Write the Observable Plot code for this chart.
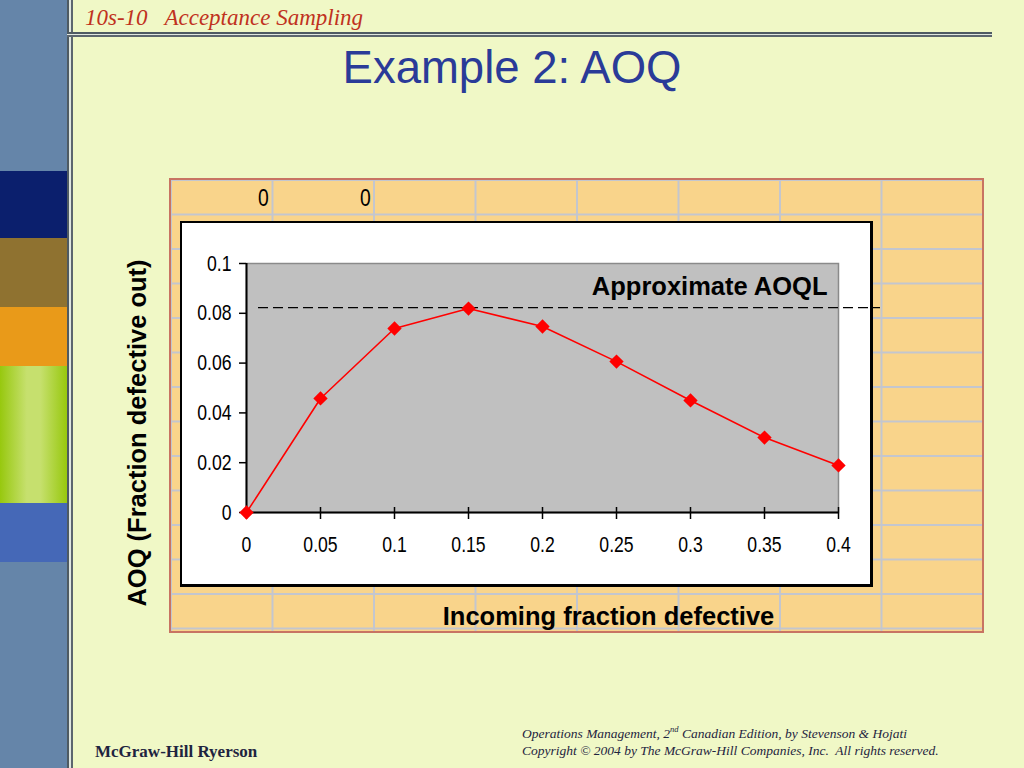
<!DOCTYPE html>
<html>
<head>
<meta charset="utf-8">
<script src="https://cdn.jsdelivr.net/npm/d3@7"></script>
<script src="https://cdn.jsdelivr.net/npm/@observablehq/plot@0.6"></script>
<style>
  html, body { margin: 0; padding: 0; }
  body { width: 1024px; height: 768px; position: relative; overflow: hidden; background: #f0f8c6; font-family: "Liberation Sans", Arial, sans-serif; }
  .abs { position: absolute; }
  #leftbar { left: 0; top: 0; width: 67px; height: 768px; background: #6585a9; }
  .blk { left: 0; width: 67px; }
  #vline1 { left: 67px; top: 0; width: 2px; height: 768px; background: #4e5a62; }
  #vline2 { left: 69px; top: 0; width: 2px; height: 768px; background: #dfe6df; }
  #vline3 { left: 71px; top: 0; width: 2px; height: 768px; background: #5c666e; }
  #hline1 { left: 67px; top: 32px; width: 925px; height: 2px; background: #4e5a62; }
  #hline2 { left: 67px; top: 34px; width: 925px; height: 1px; background: #dfe6df; }
  #hline3 { left: 67px; top: 35px; width: 925px; height: 2px; background: #5c666e; }
  #header { left: 85px; top: 5px; font-family: "Liberation Serif", "Times New Roman", serif; font-style: italic; font-size: 23px; color: #c0321e; white-space: pre; }
  #title { left: 0; width: 1024px; top: 42px; text-align: center; font-size: 45.5px; color: #2a3b98; }
  #grid { left: 170px; top: 179px; width: 812px; height: 453px; background-color: #f9d48b;
    background-image: linear-gradient(to right, #c3c6cf 2px, transparent 2px), linear-gradient(to bottom, #c3c6cf 2px, transparent 2px);
    background-size: 101.5px 100%, 100% 34.5px; }
  #gridborder { left: 169px; top: 178px; width: 811px; height: 451px; border: 2px solid #c87462; }
  .cell0 { top: 185px; width: 60px; text-align: right; font-size: 23px; color: #000; }
  #chartbox { left: 180px; top: 221px; width: 688px; height: 361px; background: #fff; border: 2px solid #000; border-right-width: 3px; border-bottom-width: 3px; }
  #plotwrap { left: 100px; top: 179px; }
  #plotwrap svg { overflow: visible; }
  #footl { left: 95px; top: 742px; font-family: "Liberation Serif", "Times New Roman", serif; font-weight: bold; font-size: 17px; color: #1e2440; }
  #footr { left: 522px; top: 721px; font-family: "Liberation Serif", "Times New Roman", serif; font-style: italic; font-size: 13.5px; line-height: 17px; color: #1e2440; }
</style>
</head>
<body>
<div id="leftbar" class="abs"></div>
<div class="abs blk" style="top:171px;height:67px;background:#0b1f6d"></div>
<div class="abs blk" style="top:238px;height:69px;background:#8f7230"></div>
<div class="abs blk" style="top:307px;height:59px;background:#e99a19"></div>
<div class="abs blk" style="top:366px;height:137px;background:linear-gradient(to right,#97c80e 0%,#c6e06e 40%,#c6e06e 60%,#97c80e 100%)"></div>
<div class="abs blk" style="top:503px;height:59px;background:#4568b7"></div>
<div id="vline1" class="abs"></div><div id="vline2" class="abs"></div><div id="vline3" class="abs"></div>
<div id="hline1" class="abs"></div><div id="hline2" class="abs"></div><div id="hline3" class="abs"></div>
<div id="header" class="abs">10s-10   Acceptance Sampling</div>
<div id="title" class="abs">Example 2: AOQ</div>
<div id="grid" class="abs"></div>
<div id="gridborder" class="abs"></div>
<div class="abs cell0" style="left:209px"><span class="narrowtxt">0</span></div>
<div class="abs cell0" style="left:311px"><span class="narrowtxt">0</span></div>
<div id="chartbox" class="abs"></div>
<div id="plotwrap" class="abs"></div>
<div id="footl" class="abs">McGraw-Hill Ryerson</div>
<div id="footr" class="abs">Operations Management, 2<sup style="font-size:8.5px">nd</sup> Canadian Edition, by Stevenson &amp; Hojati<br>Copyright © 2004 by The McGraw-Hill Companies, Inc.&nbsp; All rights reserved.</div>
<script>
// Data
const incomingFraction = [0, 0.05, 0.1, 0.15, 0.2, 0.25, 0.3, 0.35, 0.4];
const aoqValues = [0, 0.0458, 0.0739, 0.0819, 0.0747, 0.0606, 0.045, 0.0301, 0.0189];
const aoqlValue = 0.0823;
const xTicks = [0, 0.05, 0.1, 0.15, 0.2, 0.25, 0.3, 0.35, 0.4];
const yTicks = [0, 0.02, 0.04, 0.06, 0.08, 0.1];
const xLabel = "Incoming fraction defective";
const yLabel = "AOQ (Fraction defective out)";
const aoqlLabel = "Approximate AOQL";

const data = incomingFraction.map((x, i) => ({x, y: aoqValues[i]}));
const sans = "'Liberation Sans', Arial, sans-serif";

const chart = Plot.plot({
  width: 882,
  height: 453,
  marginLeft: 146,
  marginRight: 144,
  marginTop: 84,
  marginBottom: 120,
  style: {background: "transparent", overflow: "visible"},
  x: {domain: [0, 0.4], axis: null},
  y: {domain: [0, 0.1], axis: null},
  marks: [
    Plot.frame({fill: "#c0c0c0", stroke: "#8a8a8a", strokeWidth: 1.5}),
    Plot.ruleY([0], {stroke: "#000", strokeWidth: 2}),
    Plot.ruleX([0], {stroke: "#000", strokeWidth: 2}),
    Plot.axisY(yTicks, {anchor: "left", tickSize: 7, tickPadding: 8, tickFormat: d => String(d), fontSize: 22, fontFamily: sans, stroke: "#000", strokeWidth: 1.5, fill: "#000", label: null}),
    Plot.axisX(xTicks, {anchor: "bottom", tickSize: 12, dy: -5, tickPadding: 17, tickFormat: d => String(d), fontSize: 22, fontFamily: sans, stroke: "#000", strokeWidth: 1.5, fill: "#000", label: null}),
    Plot.ruleY([aoqlValue], {stroke: "#000", strokeWidth: 1.3, strokeDasharray: "10,5", insetLeft: 12, insetRight: -42}),
    Plot.line(data, {x: "x", y: "y", stroke: "#ff0000", strokeWidth: 1.6}),
    Plot.dot(data, {x: "x", y: "y", symbol: "diamond2", r: 5.5, fill: "#ff0000", stroke: "#ff0000"}),
    Plot.text([aoqlLabel], {frameAnchor: "top-right", dx: -11, dy: 23, lineAnchor: "middle", text: d => d, textAnchor: "end", fontSize: 25.5, fontWeight: "bold", fill: "#000", fontFamily: sans}),
    Plot.text([yLabel], {frameAnchor: "left", dx: -109, dy: 45, rotate: -90, text: d => d, textAnchor: "middle", lineAnchor: "middle", fontSize: 25.5, fontWeight: "bold", fill: "#000", fontFamily: sans}),
    Plot.text([xLabel], {frameAnchor: "bottom", dx: 66, dy: 104, text: d => d, textAnchor: "middle", lineAnchor: "middle", fontSize: 25.5, fontWeight: "bold", fill: "#000", fontFamily: sans})
  ]
});
document.getElementById("plotwrap").appendChild(chart);
// compress tick labels horizontally to mimic the narrow sans font
chart.querySelectorAll('g[aria-label$="tick label"] text').forEach(t => {
  const len = t.getComputedTextLength();
  t.setAttribute("textLength", (len * 0.8).toFixed(1));
  t.setAttribute("lengthAdjust", "spacingAndGlyphs");
});
document.querySelectorAll(".narrowtxt").forEach(s => { s.style.display = "inline-block"; s.style.transform = "scaleX(0.84)"; s.style.transformOrigin = "right"; });
</script>
</body>
</html>
